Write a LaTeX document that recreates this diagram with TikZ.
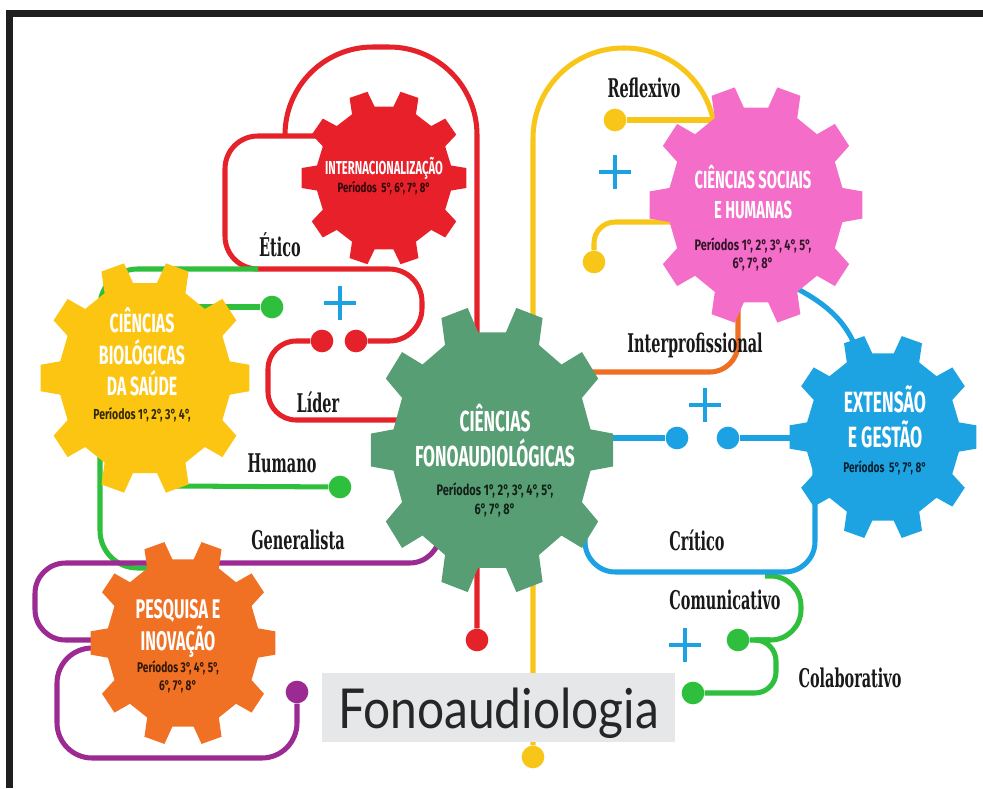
\documentclass[tikz,border=0pt]{standalone}
\usepackage{fontspec}
\setmainfont{Fira Sans}
\newfontfamily\gearfont[FakeStretch=0.6]{Fira Sans}
\newfontfamily\perfont[FakeStretch=0.72]{Fira Sans}
\newfontfamily\wordfont[FakeStretch=0.56]{DejaVu Serif}
\newfontfamily\titlefont[FakeStretch=0.87]{Lato}
\usetikzlibrary{positioning, calc}

\definecolor{gred}{HTML}{E8202A}
\definecolor{gpink}{HTML}{F46DC8}
\definecolor{gyellow}{HTML}{FBC512}
\definecolor{ggreen}{HTML}{589E74}
\definecolor{gblue}{HTML}{1DA3E2}
\definecolor{gorange}{HTML}{F07124}
\definecolor{lred}{HTML}{E52229}
\definecolor{lyellow}{HTML}{F8C619}
\definecolor{lgreen}{HTML}{2EBF3C}
\definecolor{lblue}{HTML}{1CA1E2}
\definecolor{lpurple}{HTML}{9B2B92}
\definecolor{lorange}{HTML}{EE6E22}
\definecolor{boxgray}{HTML}{E6E7E8}

\pgfdeclarelayer{tracks}
\pgfdeclarelayer{gears}
\pgfsetlayers{tracks,gears,main}

% gear: centre, x radius, y radius, colour
\newcommand{\gearfill}[4]{%
    \fill[#4, shift={#1}] (-10:0.82*#2 and 0.82*#3)
        \foreach \a in {0,36,...,324}{
            -- (\a-10:0.82*#2 and 0.82*#3) -- (\a-6.5:#2 and #3)
            -- (\a+6.5:#2 and #3) -- (\a+10:0.82*#2 and 0.82*#3)
        } -- cycle;
}
% line of periods: size, colour, text
\newcommand{\per}[3]{{\perfont\bfseries\fontsize{#1}{#1}\selectfont\color{#2}#3}}

\begin{document}
\begin{tikzpicture}[x=0.3mm, y=-0.3mm,
    track/.style={line width=4.3pt, rounded corners=#1},
    track/.default=24pt,
    stopdot/.style={circle, fill=#1, minimum size=6.8mm, inner sep=0pt},
    word/.style={font=\wordfont\bfseries\fontsize{22}{24}\selectfont, text=black!90, inner sep=0pt},
    gearlabel/.style={align=center, text=white, inner sep=0pt,
        font=\gearfont\bfseries\fontsize{#1}{\gearskip}\selectfont},
    plussign/.pic={\draw[lblue, line width=4pt] (-16,0) -- (16,0) (0,-17) -- (0,17);}]

    \useasboundingbox (0,0) rectangle (983,788);

    % frame
    \draw[line width=2.1mm, black!88] (9.5,788) -- (9.5,13.5) -- (983,13.5);

    % gear centres
    \coordinate (inter-c) at (384,178);
    \coordinate (soc-c) at (756,205);
    \coordinate (bio-c) at (145,378);
    \coordinate (fono-c) at (492,450);
    \coordinate (ext-c) at (883,437);
    \coordinate (pesq-c) at (183,643);

    % gear texts
    \def\gearskip{15.4}
    \node[gearlabel=16] (inter) at (384,176)
        {INTERNACIONALIZAÇÃO\\
         \per{11.5}{black!80!gred}{Períodos~~5°, 6°, 7°, 8°}};
    \def\gearskip{25.6}
    \node[gearlabel=21] (soc) at (753,218)
        {CIÊNCIAS SOCIAIS\\E HUMANAS\\[2pt]
         \per{13}{black!80!gpink}{Períodos 1°, 2°, 3°, 4°, 5°,}\\[-10pt]
         \per{13}{black!80!gpink}{6°, 7°, 8°}};
    \def\gearskip{27}
    \node[gearlabel=22.5] (bio) at (142,365)
        {CIÊNCIAS\\BIOLÓGICAS\\DA SAÚDE\\[-6.5pt]
         \per{12.4}{black!80!gyellow}{Períodos 1°, 2°, 3°, 4°,}};
    \def\gearskip{30}
    \node[gearlabel=24.7] (fono) at (495,461)
        {CIÊNCIAS\\FONOAUDIOLÓGICAS\\[-6pt]
         \per{13}{black!80!ggreen}{Períodos 1°, 2°, 3°, 4°, 5°,}\\[-13pt]
         \per{13}{black!80!ggreen}{6°, 7°, 8°}};
    \node[gearlabel=25] (ext) at (885,430)
        {EXTENSÃO\\E GESTÃO\\[-9pt]
         \per{12}{black!80!gblue}{Períodos~~5°, 7°, 8°}};
    \def\gearskip{27}
    \node[gearlabel=23] (pesq) at (178,646)
        {PESQUISA E\\INOVAÇÃO\\[-8pt]
         \per{12}{black!80!gorange}{Períodos 3°, 4°, 5°,}\\[-11.6pt]
         \per{12}{black!80!gorange}{6°, 7°, 8°}};

    % ports inside the gears
    \coordinate (inter-w) at (340,136);
    \coordinate (soc-w1) at (725,120);
    \coordinate (soc-w2) at (690,222);
    \coordinate (soc-s) at (738,300);
    \coordinate (soc-se) at (790,285);
    \coordinate (ext-n) at (860,360);
    \coordinate (ext-w) at (830,438);
    \coordinate (ext-sw) at (815,470);
    \coordinate (bio-e) at (190,307);
    \coordinate (bio-s) at (177,430);
    \coordinate (pesq-n) at (160,568);
    \coordinate (pesq-w1) at (120,640);
    \coordinate (pesq-w2) at (120,648);
    \coordinate (fono-w) at (420,420);
    \coordinate (fono-e1) at (560,372);
    \coordinate (fono-e2) at (570,438);
    \coordinate (fono-se) at (585,515);
    \coordinate (fono-sw) at (440,520);
    \coordinate (etico-j) at (258,269);
    \coordinate (critico-j) at (765,576);
    \coordinate (comunic-j) at (770,640);

    % stops
    \node[stopdot=lred] (dotred1) at (322,341) {};
    \node[stopdot=lred] (dotred2) at (356,341) {};
    \node[stopdot=lred] (dotred3) at (477,640) {};
    \node[stopdot=lyellow] (doty1) at (615,120) {};
    \node[stopdot=lyellow] (doty2) at (594,262) {};
    \node[stopdot=lyellow] (doty3) at (533,757) {};
    \node[stopdot=lgreen] (dotg1) at (272,307) {};
    \node[stopdot=lgreen] (dotg2) at (340,487) {};
    \node[stopdot=lgreen] (dotg3) at (738,640) {};
    \node[stopdot=lgreen] (dotg4) at (693,693) {};
    \node[stopdot=lblue] (dotb1) at (677,438) {};
    \node[stopdot=lblue] (dotb2) at (728,438) {};
    \node[stopdot=lpurple] (dotp) at (297,692) {};

    % tracks
    \begin{pgfonlayer}{tracks}
        \draw[track=75pt, lred] (dotred3) -- (477,47) -- (285,47) -- (285,136);
        \draw[track=28pt, lred] (inter-w) -- (225,136) -- (225,269) -- (422,269) -- (422,341) -- (dotred2);
        \draw[track, lred] (dotred1) -- (268,341) -- (268,420) -- (fono-w);

        \draw[track=77pt, lyellow] (doty3) -- (533,48) -- (715,48) -- (715,160);
        \draw[track, lyellow] (doty1) -- (soc-w1);
        \draw[track=18pt, lyellow] (doty2) -- (594,222) -- (soc-w2);

        \draw[track, lorange] (fono-e1) -- (738,372) -- (soc-s);

        \draw[track=32pt, lgreen] (pesq-n) -- (100,568) -- (100,269) -- (etico-j);
        \draw[track, lgreen] (bio-e) -- (dotg1);
        \draw[track=0pt, lgreen] (bio-s) -- (177,486) -- (dotg2);
        \draw[track=26pt, lgreen] (critico-j) -- (801,576) -- (801,640) -- (dotg3);
        \draw[track=18pt, lgreen] (comunic-j) -- (776,640) -- (776,693) -- (dotg4);

        \draw[track=26pt, lpurple] (fono-sw) -- (440,563) -- (35,563) -- (35,640) -- (pesq-w1);
        \draw[track=30pt, lpurple] (pesq-w2) -- (57,648) -- (57,758) -- (297,758) -- (dotp);

        \draw[track, lblue] (soc-se) .. controls (830,305) and (850,325) .. (ext-n);
        \draw[track, lblue] (fono-e2) -- (dotb1);
        \draw[track, lblue] (dotb2) -- (ext-w);
        \draw[track=26pt, lblue] (fono-se) -- (585,572) -- (815,572) -- (ext-sw);
    \end{pgfonlayer}

    % gears
    \begin{pgfonlayer}{gears}
        \gearfill{(inter-c)}{83}{88}{gred}
        \gearfill{(soc-c)}{107}{120}{gpink}
        \gearfill{(bio-c)}{105}{117}{gyellow}
        \gearfill{(fono-c)}{122}{145}{ggreen}
        \gearfill{(ext-c)}{94}{103}{gblue}
        \gearfill{(pesq-c)}{93}{103}{gorange}
    \end{pgfonlayer}

    % words along the tracks
    \node[word] (etico) at (280,245) {Ético};
    \node[word] (lider) at (318,402) {Líder};
    \node[word] (humano) at (282,463) {Humano};
    \node[word] (generalista) at (298,540) {Generalista};
    \node[word] (reflexivo) at (644,88) {Reflexivo};
    \node[word] (interprof) at (695,345) {Interprofissional};
    \node[word] (critico) at (697,540) {Crítico};
    \node[word] (comunicativo) at (725,600) {Comunicativo};
    \node[word] (colaborativo) at (850,678) {Colaborativo};

    \pic at (340,303) {plussign};
    \pic at (615,172) {plussign};
    \pic at (705,405) {plussign};
    \pic at (685,645) {plussign};

    % title
    \node[fill=boxgray, minimum width=105.9mm, minimum height=20.7mm, inner sep=0pt,
          text height=35pt, text depth=0pt, text=black!85,
          font=\titlefont\fontsize{47}{50}\selectfont] (title) at (498.5,707.5) {Fonoaudiologia};
\end{tikzpicture}
\end{document}
